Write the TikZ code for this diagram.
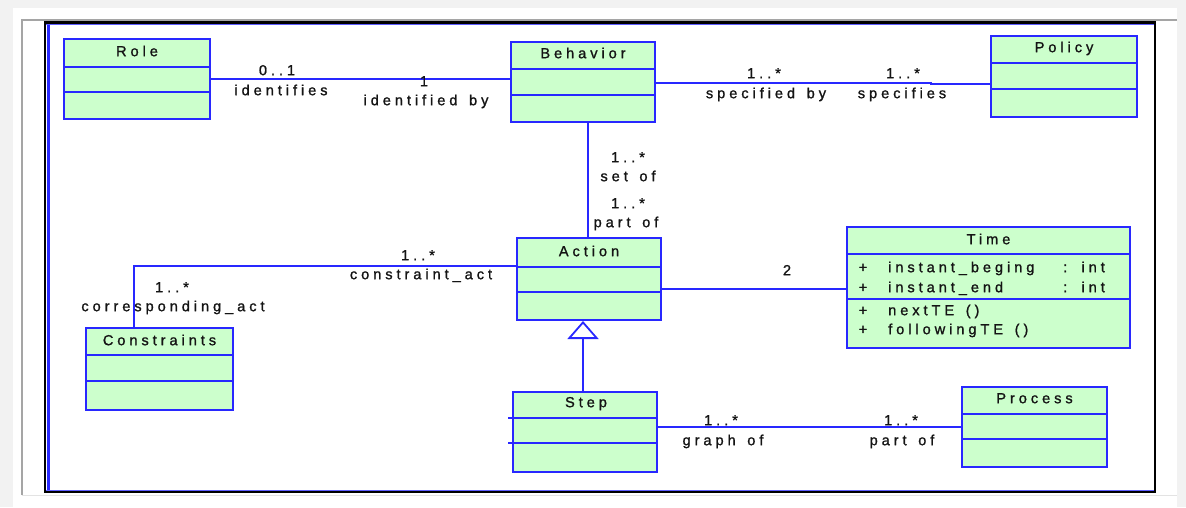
\documentclass[tikz,border=0pt]{standalone}
\usepackage{fontspec}
\newfontfamily\umlfont{Liberation Sans}[LetterSpace=27, WordSpace=1.45, FakeBold=1.2]
\usetikzlibrary{arrows.meta}

\definecolor{pagegray}{RGB}{242,242,242}
\definecolor{framegray}{RGB}{165,165,165}
\definecolor{umlblue}{RGB}{40,40,255}
\definecolor{classfill}{RGB}{204,255,204}
\definecolor{inktext}{RGB}{20,20,20}

\tikzset{
  classbox/.style={draw=umlblue, fill=classfill, line width=2pt, inner sep=0pt},
  splitline/.style={draw=umlblue, line width=2pt},
  assoc/.style={draw=umlblue, line width=2pt},
  lbl/.style={font=\umlfont\fontsize{14.6}{17}\selectfont, text=inktext,
    inner sep=0pt, text height=10.4pt, text depth=0pt},
  titletext/.style={lbl},
  attr/.style={lbl, anchor=west},
}

% name, x1, y1, x2, y2, first split, second split, title y, title
\newcommand\umlclass[9]{%
  \node[classbox, minimum width={(#4-#2)*1pt}, minimum height={(#5-#3)*1pt}]
    (#1) at ({(#2+#4)/2},{(#3+#5)/2}) {};
  \draw[splitline] (#1.west |- 0,#6) -- (#1.east |- 0,#6);
  \draw[splitline] (#1.west |- 0,#7) -- (#1.east |- 0,#7);
  \node[titletext] (#1-title) at ({(#2+#4)/2},#8) {#9};
}

\begin{document}
\begin{tikzpicture}[x=1pt, y=-1pt]
  \useasboundingbox (0,0) rectangle (1186,507);
  % page and frame
  \fill[pagegray] (0,0) rectangle (1186,507);
  \fill[white] (13,8) rectangle (1177,507);
  \draw[framegray, line width=2pt] (22,495) -- (22,20) -- (1177,20);
  \draw[pagegray!80!framegray, line width=1pt] (22,495.5) -- (1177,495.5);
  \draw[black, line width=2.5pt] (45,22.5) rectangle (1155,492);
  \fill[umlblue] (46.5,23.7) rectangle (50,490.8);
  \draw[umlblue!75, line width=1pt] (46,24.2) -- (1154,24.2);
  \draw[umlblue!75, line width=1pt] (46,490.3) -- (1154,490.3);

  % classes
  \umlclass{role}{64}{39}{210}{119}{67}{92}{51}{Role}
  \umlclass{behavior}{511}{42}{655}{122}{69}{95}{53}{Behavior}
  \umlclass{policy}{991}{36}{1137}{117}{63}{89}{47}{Policy}
  \umlclass{action}{517}{238}{661}{320}{267}{292}{251}{Action}
  \umlclass{time}{847}{227}{1130}{348}{254}{299}{239}{Time}
  \umlclass{constraints}{86}{328}{233}{410}{355}{381}{340}{Constraints}
  \umlclass{process}{962}{387}{1107}{467}{414}{439}{398}{Process}
  % Step: its compartment lines run a little past the left edge
  \node[classbox, minimum width=144pt, minimum height=80pt] (step) at (585,432) {};
  \draw[splitline] ([xshift=-4pt]step.west |- 0,418) -- (step.east |- 0,418);
  \draw[splitline] ([xshift=-4pt]step.west |- 0,443) -- (step.east |- 0,443);
  \node[titletext] (step-title) at (586,402) {Step};

  % Time attributes and operations
  \node[lbl] (tp1) at (863,267) {+};
  \node[attr] (ta1) at (888,267) {instant\_beging};
  \node[attr] (tt1) at (1063,267) {: int};
  \node[lbl] (tp2) at (863,287) {+};
  \node[attr] (ta2) at (888,287) {instant\_end};
  \node[attr] (tt2) at (1063,287) {: int};
  \node[lbl] (tp3) at (863,310) {+};
  \node[attr] (tm1) at (888,310) {nextTE ()};
  \node[lbl] (tp4) at (863,329) {+};
  \node[attr] (tm2) at (888,329) {followingTE ()};

  % associations
  \draw[assoc] (role.east) -- (role.east -| behavior.west);
  \coordinate (pjog) at (931,83);
  \draw[assoc] ([yshift=-1pt]behavior.east) -- (pjog) -- ++(0,1) -| ([yshift=-7.5pt]policy.west);
  \draw[assoc] ([xshift=-1pt]action.north) -- ([xshift=-1pt]action.north |- behavior.south);
  \draw[assoc] ([yshift=-1pt]time.west) -- ([yshift=-1pt]time.west -| action.east);
  \coordinate (cbend) at (134,266);
  \draw[assoc] (action.west |- cbend) -- (cbend) -- (cbend |- constraints.north);
  \draw[assoc] (process.west) -- (process.west -| step.east);
  % generalization Step -> Action
  \draw[assoc, -{Triangle[open, width=31pt, length=18pt, line width=1.8pt]}]
    ([xshift=-2pt]step.north) -- ([xshift=-2pt]step.north |- action.south);

  % association end labels
  \node[lbl] (l01) at (277,70) {0..1};
  \node[lbl] (lidf) at (281,90) {identifies};
  \node[lbl] (l1) at (424,81) {1};
  \node[lbl] (lidb) at (426,100) {identified by};
  \node[lbl] (lbp1) at (764,73) {1..*};
  \node[lbl] (lspb) at (766,93) {specified by};
  \node[lbl] (lbp2) at (903,73) {1..*};
  \node[lbl] (lsps) at (902,93) {specifies};
  \node[lbl] (lba1) at (628,157) {1..*};
  \node[lbl] (lset) at (628,176) {set of};
  \node[lbl] (lba2) at (628,203) {1..*};
  \node[lbl] (lpart) at (626,222) {part of};
  \node[lbl] (lca1) at (418,255) {1..*};
  \node[lbl] (lcact) at (421,274) {constraint\_act};
  \node[lbl] (lca2) at (172,287) {1..*};
  \node[lbl] (lcorr) at (173,306) {corresponding\_act};
  \node[lbl] (ltwo) at (787,270) {2};
  \node[lbl] (lsp1) at (721,420) {1..*};
  \node[lbl] (lgraph) at (723,440) {graph of};
  \node[lbl] (lsp2) at (901,420) {1..*};
  \node[lbl] (lppart) at (902,440) {part of};
\end{tikzpicture}
\end{document}
